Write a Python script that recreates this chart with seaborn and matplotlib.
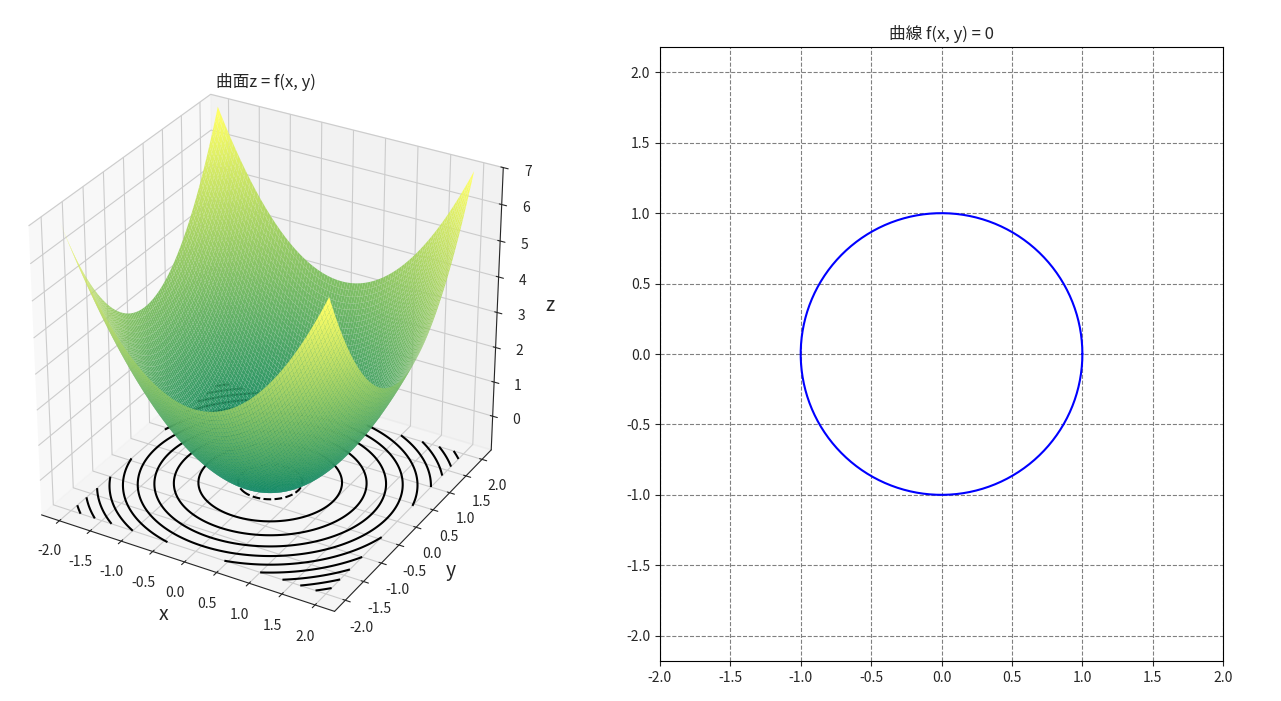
import numpy as np
import matplotlib
matplotlib.use("Agg")
import matplotlib.pyplot as plt
import seaborn as sns
import pandas as pd

sns.set_style("white")
plt.rcParams['font.family'] = ['Noto Sans CJK JP', 'DejaVu Sans']
plt.rcParams['axes.unicode_minus'] = False

x_vals = np.linspace(-2, 2, 100)
y_vals = np.linspace(-2, 2, 100)
theta = np.linspace(0, 2*np.pi, 400)
ticks = [-2.0, -1.5, -1.0, -0.5, 0.0, 0.5, 1.0, 1.5, 2.0]
zticks = [0, 1, 2, 3, 4, 5, 6, 7]

X, Y = np.meshgrid(x_vals, y_vals)
Z = X**2 + Y**2 - 1

fig = plt.figure(figsize=(12.81, 7.01), dpi=100)
ax1 = fig.add_axes([-0.015, -0.065, 0.44, 1.13], projection='3d')
ax1.set_box_aspect((4, 4, 3.9))
ax1.plot_surface(X, Y, Z, cmap='summer', rstride=1, cstride=1, linewidth=0, antialiased=True)
ax1.contour(X, Y, Z, levels=10, colors='black', offset=-1)
ax1.set_zlim(-1, 7)
ax1.set_xlabel('x', fontsize=14)
ax1.set_ylabel('y', fontsize=14)
ax1.set_zlabel('z', fontsize=14)
ax1.set_xticks(ticks); ax1.set_yticks(ticks); ax1.set_zticks(zticks)
fig.text(266/1281, 1 - 82/701, '曲面z = f(x, y)', ha='center', va='center', fontsize=12)

ax2 = fig.add_axes([0.515, 0.057, 0.440, 0.876])
df = pd.DataFrame({'x': np.cos(theta), 'y': np.sin(theta)})
sns.lineplot(data=df, x='x', y='y', sort=False, color='blue', ax=ax2, estimator=None)
ax2.set_xlim(-2, 2); ax2.set_ylim(-2.18, 2.18)
ax2.set_aspect('equal', adjustable='box')
ax2.set_xticks(ticks); ax2.set_yticks(ticks)
ax2.grid(True, linestyle='--', color='gray')
ax2.set_xlabel(''); ax2.set_ylabel('')
ax2.set_title('曲線 f(x, y) = 0')
for s in ax2.spines.values():
    s.set_color('black')
ax2.tick_params(left=True, bottom=True, length=3.5)

fig.savefig('out.png', dpi=100)
